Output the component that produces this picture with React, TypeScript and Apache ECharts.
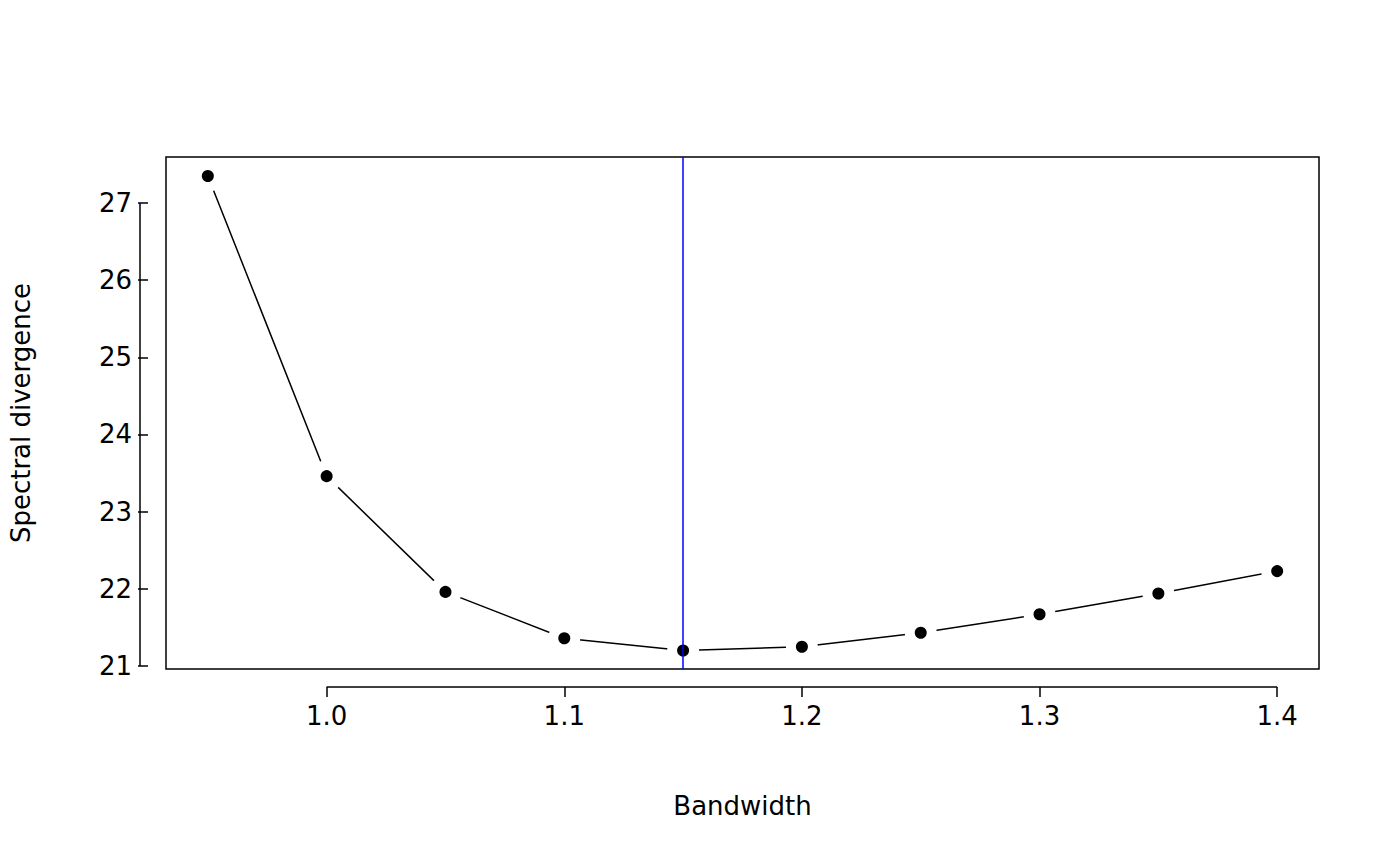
import { useEffect, useRef } from "react"
import * as echarts from "echarts"

const bandwidth = [0.95, 1.0, 1.05, 1.1, 1.15, 1.2, 1.25, 1.3, 1.35, 1.4]
const divergence = [27.35, 23.46, 21.96, 21.36, 21.2, 21.25, 21.43, 21.67, 21.94, 22.23]
const xTicks = [1.0, 1.1, 1.2, 1.3, 1.4]
const yTicks = [21, 22, 23, 24, 25, 26, 27]
const chosen = 1.15

const font = "DejaVu Sans"

export default function App() {
  const ref = useRef<HTMLDivElement>(null)

  useEffect(() => {
    if (!ref.current) return
    const chart = echarts.init(ref.current, null, { renderer: "svg" })
    const grid = { left: 158, top: 157, width: 1161, height: 512 }
    chart.setOption({
      animation: false,
      backgroundColor: "#fff",
      textStyle: { fontFamily: font },
      grid: { ...grid, show: true, borderColor: "#000", borderWidth: 1.5, backgroundColor: "transparent" },
      xAxis: {
        type: "value", min: 0.9324, max: 1.4176, offset: 18,
        name: "Bandwidth", nameLocation: "middle", nameGap: 106,
        nameTextStyle: { fontSize: 26, color: "#000", fontFamily: font },
        splitLine: { show: false },
        axisLine: { show: false },
        axisTick: { show: true, length: 10, customValues: xTicks, lineStyle: { color: "#000", width: 1.5 } },
        axisLabel: { customValues: xTicks, fontSize: 26, color: "#000", margin: 16, fontFamily: font,
          formatter: (v: number) => v.toFixed(1) },
      },
      yAxis: {
        type: "value", min: 20.961, max: 27.596, offset: 18,
        name: "Spectral divergence", nameLocation: "middle", nameGap: 114,
        nameTextStyle: { fontSize: 26, color: "#000", fontFamily: font },
        splitLine: { show: false },
        axisLine: { show: false },
        axisTick: { show: true, length: 10, customValues: yTicks, lineStyle: { color: "#000", width: 1.5 } },
        axisLabel: { customValues: yTicks, fontSize: 26, color: "#000", margin: 16, fontFamily: font },
      },
      series: [
        {
          type: "line",
          data: bandwidth.map((b, i) => [b, divergence[i]]),
          lineStyle: { color: "#000", width: 1.5 },
          symbol: "circle", symbolSize: 22,
          itemStyle: { color: "#000", borderColor: "#fff", borderWidth: 10 },
          z: 2,
        },
        {
          type: "line",
          data: [],
          z: 5,
          markLine: {
            silent: true, symbol: "none", label: { show: false },
            lineStyle: { color: "#0000ff", width: 1.5, type: "solid" },
            data: [{ xAxis: chosen }],
          },
        },
      ],
    })
    const xa = chart.convertToPixel({ xAxisIndex: 0 }, xTicks[0])
    const xb = chart.convertToPixel({ xAxisIndex: 0 }, xTicks[xTicks.length - 1])
    const ya = chart.convertToPixel({ yAxisIndex: 0 }, yTicks[0])
    const yb = chart.convertToPixel({ yAxisIndex: 0 }, yTicks[yTicks.length - 1])
    const xLineY = grid.top + grid.height + 18
    const yLineX = grid.left - 18
    const ls = { stroke: "#000", lineWidth: 1.5 }
    chart.setOption({
      graphic: [
        { type: "line", shape: { x1: xa, y1: xLineY, x2: xb, y2: xLineY }, style: ls },
        { type: "line", shape: { x1: yLineX, y1: ya, x2: yLineX, y2: yb }, style: ls },
      ],
    })
    return () => chart.dispose()
  }, [])

  return <div ref={ref} style={{ width: 1400, height: 866, margin: -8 }} />
}
